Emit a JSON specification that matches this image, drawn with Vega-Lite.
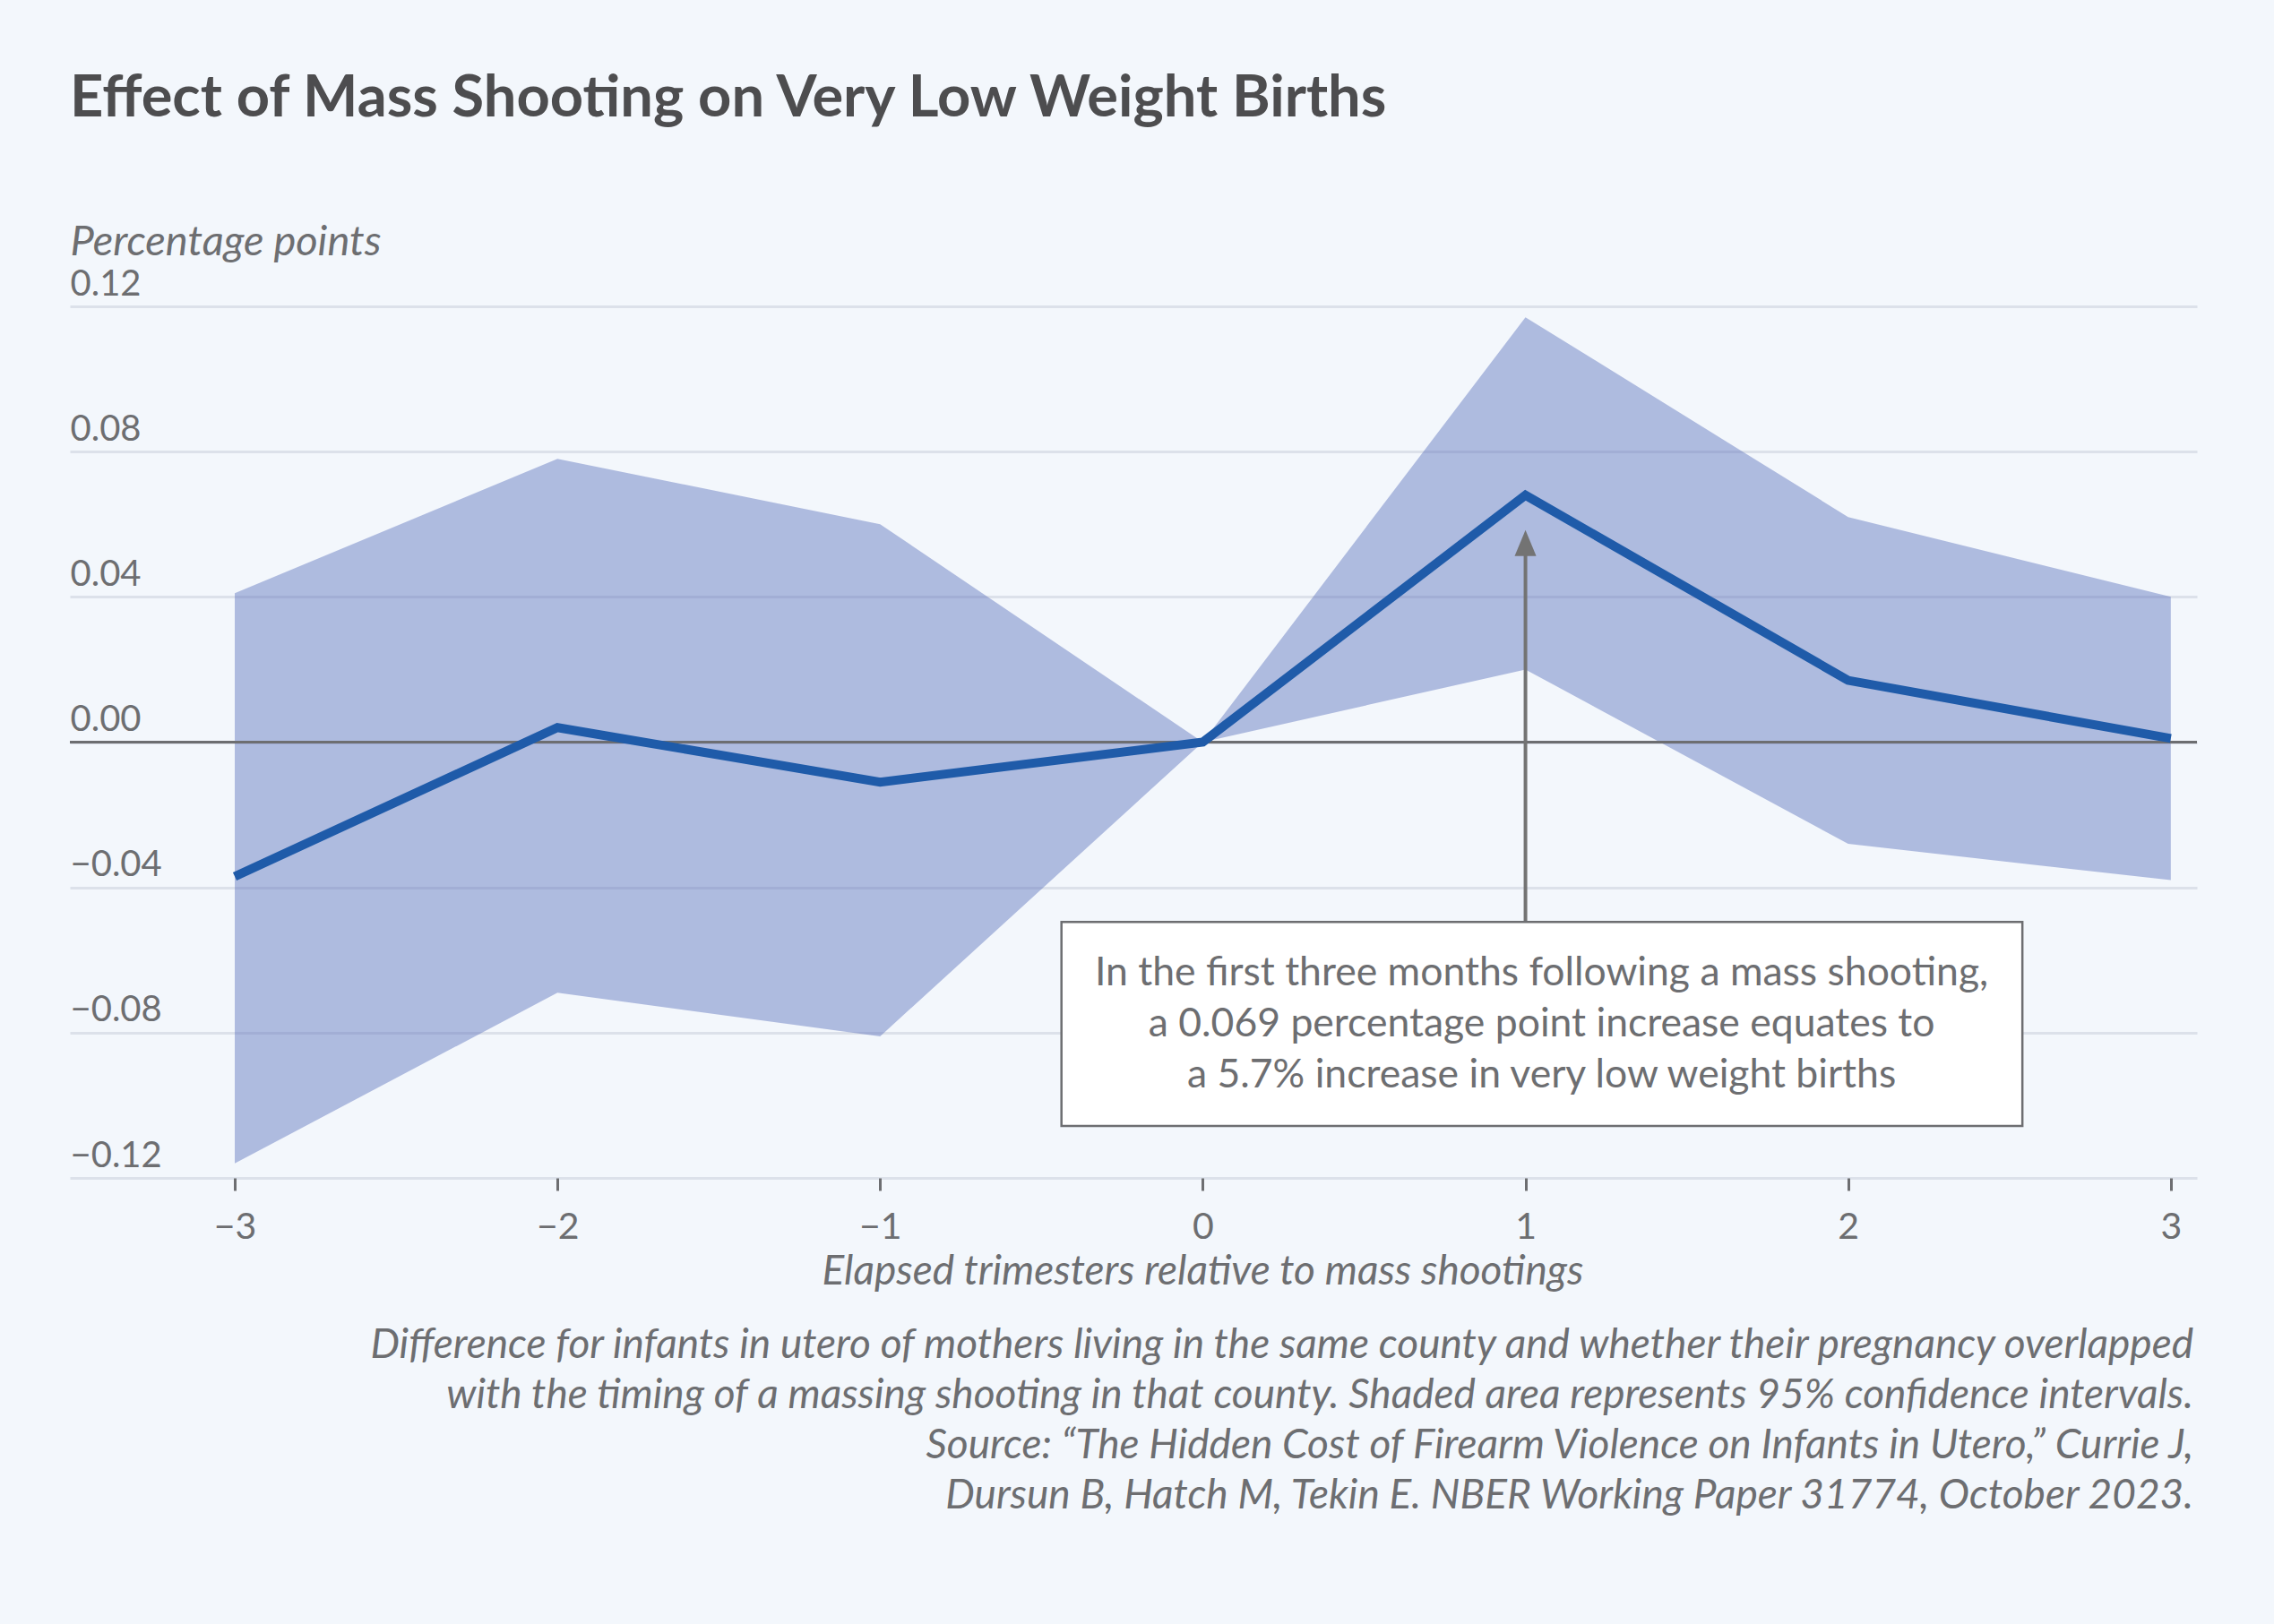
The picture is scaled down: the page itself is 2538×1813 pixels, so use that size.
{
  "$schema": "https://vega.github.io/schema/vega-lite/v6.json",
  "width": 2374,
  "height": 973,
  "autosize": {"type": "none"},
  "padding": {"left": 78, "top": 342, "right": 86, "bottom": 498},
  "background": "#f3f7fc",
  "config": {"view": {"stroke": null}, "font": "Lato"},
  "title": {
    "text": "Effect of Mass Shooting on Very Low Weight Births",
    "anchor": "start",
    "frame": "group",
    "font": "Lato",
    "fontSize": 65,
    "fontWeight": "bold",
    "color": "#4d4d4f",
    "baseline": "alphabetic",
    "offset": 51
  },
  "data": {"values": [
    {"t": -3, "est": -0.037, "lo": -0.116, "hi": 0.041},
    {"t": -2, "est": 0.004, "lo": -0.069, "hi": 0.078},
    {"t": -1, "est": -0.011, "lo": -0.081, "hi": 0.060},
    {"t": 0, "est": 0.0, "lo": 0.0, "hi": 0.0},
    {"t": 1, "est": 0.068, "lo": 0.020, "hi": 0.117},
    {"t": 2, "est": 0.017, "lo": -0.028, "hi": 0.062},
    {"t": 3, "est": 0.001, "lo": -0.038, "hi": 0.040}
  ]},
  "layer": [
    {
      "mark": {"type": "area", "color": "#5a72bc", "opacity": 0.45},
      "encoding": {
        "x": {
          "field": "t", "type": "quantitative",
          "scale": {"domain": [-3.511, 3.081], "nice": false, "zero": false},
          "axis": {
            "values": [-3, -2, -1, 0, 1, 2, 3],
            "format": "d",
            "grid": false,
            "domain": false,
            "ticks": true,
            "tickColor": "#6d6e71",
            "tickSize": 14,
            "tickWidth": 3,
            "labelFont": "Lato",
            "labelFontSize": 41,
            "labelColor": "#6d6e71",
            "labelPadding": 53,
            "labelBaseline": "alphabetic",
            "labelFlush": false,
            "title": "Elapsed trimesters relative to mass shootings",
            "titleFont": "Lato",
            "titleFontStyle": "italic",
            "titleFontWeight": "normal",
            "titleFontSize": 46,
            "titleColor": "#6d6e71",
            "titleX": 1264,
            "titleY": 118,
            "titleAlign": "center",
            "titleBaseline": "alphabetic"
          }
        },
        "y": {
          "field": "lo", "type": "quantitative",
          "scale": {"domain": [-0.12, 0.12], "nice": false},
          "axis": {
            "values": [-0.12, -0.08, -0.04, 0, 0.04, 0.08, 0.12],
            "format": ".2f",
            "grid": true,
            "gridColor": "#dce1ea",
            "gridWidth": 3,
            "domain": false,
            "ticks": false,
            "labelAlign": "left",
            "labelBaseline": "alphabetic",
            "labelPadding": 0,
            "labelOffset": -13,
            "labelFont": "Lato",
            "labelFontSize": 40,
            "labelColor": "#6d6e71",
            "title": "Percentage points",
            "titleAngle": 0,
            "titleAlign": "left",
            "titleBaseline": "alphabetic",
            "titleX": 0,
            "titleY": -58,
            "titleFont": "Lato",
            "titleFontStyle": "italic",
            "titleFontWeight": "normal",
            "titleFontSize": 47,
            "titleColor": "#6d6e71"
          }
        },
        "y2": {"field": "hi"}
      }
    },
    {
      "mark": {"type": "rule", "color": "#6d6e71", "strokeWidth": 3},
      "data": {"values": [{"z": 0}]},
      "encoding": {"y": {"field": "z", "type": "quantitative"}}
    },
    {
      "mark": {"type": "rule", "color": "#737373", "strokeWidth": 4},
      "data": {"values": [{"a": 0}]},
      "encoding": {
        "x": {"datum": 1, "type": "quantitative"},
        "y": {"datum": -0.0495, "type": "quantitative"},
        "y2": {"datum": 0.053}
      }
    },
    {
      "mark": {"type": "point", "shape": "M0,-1L0.83,1L-0.83,1Z", "size": 841, "filled": true, "color": "#737373", "opacity": 1, "strokeWidth": 0},
      "data": {"values": [{"a": 0}]},
      "encoding": {
        "x": {"datum": 1, "type": "quantitative"},
        "y": {"datum": 0.0548, "type": "quantitative"}
      }
    },
    {
      "mark": {"type": "line", "color": "#1f5ba9", "strokeWidth": 10, "strokeJoin": "miter", "strokeCap": "butt"},
      "encoding": {
        "x": {"field": "t", "type": "quantitative"},
        "y": {"field": "est", "type": "quantitative"}
      }
    },
    {
      "mark": {"type": "rect", "fill": "#ffffff", "stroke": "#6d6e71", "strokeWidth": 2.5},
      "data": {"values": [{"a": 0}]},
      "encoding": {
        "x": {"datum": -0.438, "type": "quantitative"},
        "x2": {"datum": 2.54},
        "y": {"datum": -0.0495, "type": "quantitative"},
        "y2": {"datum": -0.1057}
      }
    },
    {
      "mark": {"type": "text", "align": "center", "baseline": "alphabetic", "lineBreak": "\n", "lineHeight": 56.7, "font": "Lato", "fontSize": 44.5, "color": "#6d6e71"},
      "data": {"values": [{"note": "In the first three months following a mass shooting,\na 0.069 percentage point increase equates to\na 5.7% increase in very low weight births"}]},
      "encoding": {
        "x": {"datum": 1.05, "type": "quantitative"},
        "y": {"datum": -0.067, "type": "quantitative"},
        "text": {"field": "note"}
      }
    },
    {
      "mark": {"type": "text", "align": "right", "baseline": "alphabetic", "lineBreak": "\n", "lineHeight": 56.2, "font": "Lato", "fontSize": 46, "fontStyle": "italic", "color": "#6d6e71"},
      "data": {"values": [{"note": "Difference for infants in utero of mothers living in the same county and whether their pregnancy overlapped\nwith the timing of a massing shooting in that county. Shaded area represents 95% confidence intervals.\nSource: “The Hidden Cost of Firearm Violence on Infants in Utero,” Currie J,\nDursun B, Hatch M, Tekin E. NBER Working Paper 31774, October 2023."}]},
      "encoding": {
        "x": {"datum": 3.07, "type": "quantitative"},
        "y": {"datum": -0.1695, "type": "quantitative"},
        "text": {"field": "note"}
      }
    }
  ]
}
